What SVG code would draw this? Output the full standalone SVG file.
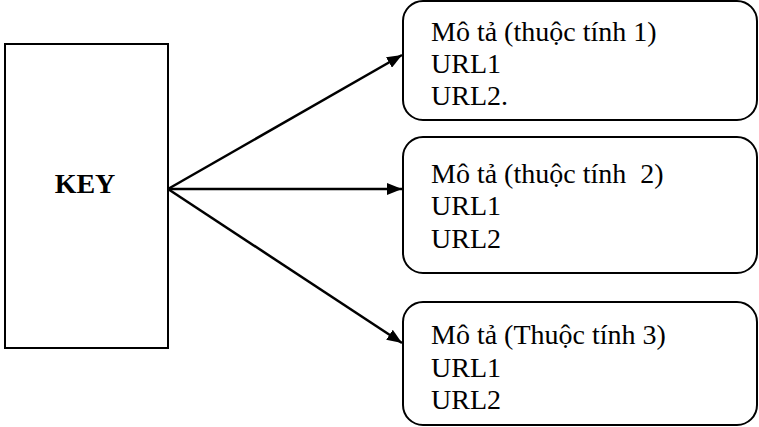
<svg xmlns="http://www.w3.org/2000/svg" width="759" height="427" viewBox="0 0 759 427">
  <defs>
    <marker id="arrow" viewBox="0 0 10 10" refX="10" refY="5" markerWidth="15" markerHeight="12" markerUnits="userSpaceOnUse" preserveAspectRatio="none" orient="auto">
      <path d="M0,0 L10,5 L0,10 z" fill="#000"/>
    </marker>
    <style>
      .box { fill: #fff; stroke: #000; stroke-width: 2; }
      .lbl { font-family: "Liberation Serif", "Times New Roman", serif; font-size: 28px; fill: #000; }
      .key { font-family: "Liberation Serif", "Times New Roman", serif; font-size: 28px; font-weight: bold; fill: #000; }
      .edge { stroke: #000; stroke-width: 2.5; fill: none; marker-end: url(#arrow); }
    </style>
  </defs>
  <rect width="759" height="427" fill="#fff"/>

  <g id="key">
    <rect class="box" x="5" y="44" width="163" height="304"/>
    <text class="key" x="85" y="193" text-anchor="middle">KEY</text>
  </g>

  <g id="attr1">
    <rect class="box" x="403" y="1" width="354" height="119" rx="20" ry="20"/>
    <text class="lbl" x="431" y="41">Mô tả (thuộc tính 1)</text>
    <text class="lbl" x="431" y="73">URL1</text>
    <text class="lbl" x="431" y="105">URL2.</text>
  </g>

  <g id="attr2">
    <rect class="box" x="403" y="137" width="354" height="136" rx="20" ry="20"/>
    <text class="lbl" x="431" y="183" xml:space="preserve">Mô tả (thuộc tính  2)</text>
    <text class="lbl" x="431" y="215">URL1</text>
    <text class="lbl" x="431" y="248">URL2</text>
  </g>

  <g id="attr3">
    <rect class="box" x="403" y="302" width="354" height="123" rx="20" ry="20"/>
    <text class="lbl" x="431" y="344">Mô tả (Thuộc tính 3)</text>
    <text class="lbl" x="431" y="377">URL1</text>
    <text class="lbl" x="431" y="409">URL2</text>
  </g>

  <g id="connectors">
    <line class="edge" x1="168" y1="189" x2="402" y2="55"/>
    <line class="edge" x1="168" y1="189" x2="402" y2="189"/>
    <line class="edge" x1="168" y1="189" x2="402" y2="343"/>
  </g>
</svg>
